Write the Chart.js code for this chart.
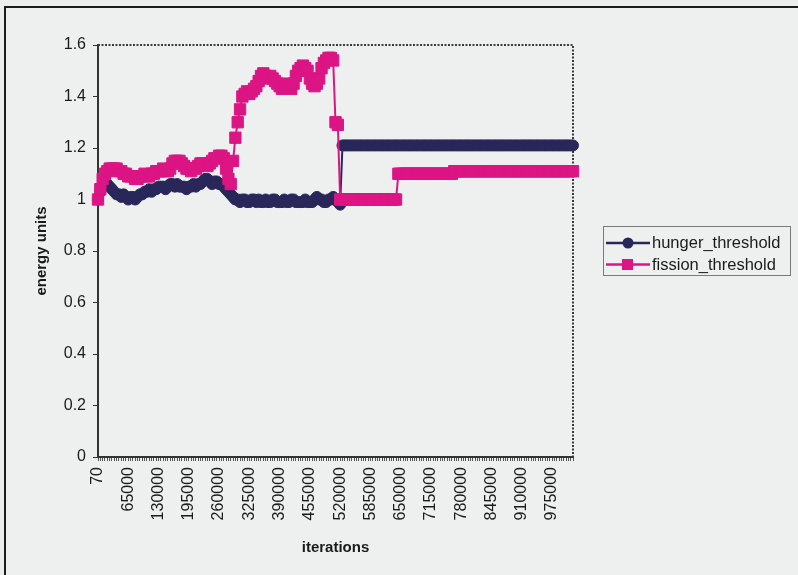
<!DOCTYPE html>
<html>
<head>
<meta charset="utf-8">
<script src="https://cdn.jsdelivr.net/npm/chart.js@4.4.1/dist/chart.umd.min.js"></script>
<style>
  html, body { margin: 0; padding: 0; background: #eceeed; overflow: hidden; }
  #frame { position: absolute; left: 4px; top: 6px; width: 830px; height: 610px;
           border-top: 2px solid #1c1c1c; border-left: 2px solid #1c1c1c; background: #eef0ef; }
  #c { position: absolute; left: 0; top: 0; }
</style>
</head>
<body>
<div id="frame"></div>
<canvas id="c" width="798" height="575"></canvas>
<script>
// iteration counts sampled every 5000 steps (first sample at iteration 70)
const iterations = [70];
for (let k = 1; k <= 204; k++) iterations.push(k * 5000);

// labels printed under the x axis
const tickLabels = ['70', '65000', '130000', '195000', '260000', '325000', '390000', '455000',
  '520000', '585000', '650000', '715000', '780000', '845000', '910000', '975000'];

const hungerThreshold = [
  1.00, 1.03, 1.05, 1.06, 1.06, 1.05, 1.04, 1.03, 1.02, 1.02,
  1.01, 1.02, 1.01, 1.00, 1.01, 1.01, 1.00, 1.01, 1.02, 1.02,
  1.03, 1.03, 1.04, 1.03, 1.04, 1.04, 1.05, 1.05, 1.05, 1.04,
  1.05, 1.06, 1.06, 1.05, 1.06, 1.05, 1.05, 1.05, 1.04, 1.05,
  1.05, 1.06, 1.05, 1.06, 1.06, 1.07, 1.08, 1.08, 1.07, 1.06,
  1.07, 1.07, 1.06, 1.06, 1.05, 1.04, 1.03, 1.02, 1.01, 1.00,
  1.00, 0.99, 1.00, 1.00, 0.99, 0.99, 1.00, 1.00, 0.99, 1.00,
  0.99, 0.99, 1.00, 0.99, 0.99, 1.00, 1.00, 0.99, 0.99, 0.99,
  1.00, 0.99, 0.99, 1.00, 1.00, 0.99, 0.99, 0.99, 0.99, 1.00,
  0.99, 0.99, 0.99, 1.00, 1.01, 1.00, 1.00, 0.99, 0.99, 1.00,
  1.00, 1.01, 1.00, 0.99, 0.98, 1.21, 1.21, 1.21, 1.21, 1.21,
  1.21, 1.21, 1.21, 1.21, 1.21, 1.21, 1.21, 1.21, 1.21, 1.21,
  1.21, 1.21, 1.21, 1.21, 1.21, 1.21, 1.21, 1.21, 1.21, 1.21,
  1.21, 1.21, 1.21, 1.21, 1.21, 1.21, 1.21, 1.21, 1.21, 1.21,
  1.21, 1.21, 1.21, 1.21, 1.21, 1.21, 1.21, 1.21, 1.21, 1.21,
  1.21, 1.21, 1.21, 1.21, 1.21, 1.21, 1.21, 1.21, 1.21, 1.21,
  1.21, 1.21, 1.21, 1.21, 1.21, 1.21, 1.21, 1.21, 1.21, 1.21,
  1.21, 1.21, 1.21, 1.21, 1.21, 1.21, 1.21, 1.21, 1.21, 1.21,
  1.21, 1.21, 1.21, 1.21, 1.21, 1.21, 1.21, 1.21, 1.21, 1.21,
  1.21, 1.21, 1.21, 1.21, 1.21, 1.21, 1.21, 1.21, 1.21, 1.21,
  1.21, 1.21, 1.21, 1.21, 1.21
];

const fissionThreshold = [
  1.00, 1.04, 1.08, 1.10, 1.11, 1.12, 1.12, 1.12, 1.12, 1.11,
  1.11, 1.10, 1.10, 1.09, 1.09, 1.09, 1.08, 1.08, 1.09, 1.09,
  1.10, 1.09, 1.09, 1.10, 1.10, 1.11, 1.11, 1.11, 1.12, 1.11,
  1.11, 1.12, 1.14, 1.15, 1.15, 1.15, 1.14, 1.13, 1.12, 1.12,
  1.11, 1.12, 1.12, 1.13, 1.14, 1.14, 1.14, 1.13, 1.14, 1.15,
  1.16, 1.16, 1.17, 1.17, 1.16, 1.12, 1.08, 1.06, 1.15, 1.24,
  1.30, 1.35, 1.40, 1.41, 1.42, 1.41, 1.42, 1.43, 1.44, 1.46,
  1.48, 1.49, 1.48, 1.47, 1.48, 1.47, 1.46, 1.45, 1.44, 1.43,
  1.44, 1.45, 1.44, 1.43, 1.45, 1.48, 1.50, 1.51, 1.52, 1.51,
  1.50, 1.47, 1.45, 1.44, 1.45, 1.47, 1.51, 1.53, 1.54, 1.55,
  1.55, 1.54, 1.30, 1.29, 1.00, 1.00, 1.00, 1.00, 1.00, 1.00,
  1.00, 1.00, 1.00, 1.00, 1.00, 1.00, 1.00, 1.00, 1.00, 1.00,
  1.00, 1.00, 1.00, 1.00, 1.00, 1.00, 1.00, 1.00, 1.00, 1.10,
  1.10, 1.10, 1.10, 1.10, 1.10, 1.10, 1.10, 1.10, 1.10, 1.10,
  1.10, 1.10, 1.10, 1.10, 1.10, 1.10, 1.10, 1.10, 1.10, 1.10,
  1.10, 1.10, 1.10, 1.11, 1.11, 1.11, 1.11, 1.11, 1.11, 1.11,
  1.11, 1.11, 1.11, 1.11, 1.11, 1.11, 1.11, 1.11, 1.11, 1.11,
  1.11, 1.11, 1.11, 1.11, 1.11, 1.11, 1.11, 1.11, 1.11, 1.11,
  1.11, 1.11, 1.11, 1.11, 1.11, 1.11, 1.11, 1.11, 1.11, 1.11,
  1.11, 1.11, 1.11, 1.11, 1.11, 1.11, 1.11, 1.11, 1.11, 1.11,
  1.11, 1.11, 1.11, 1.11, 1.11
];

const NAVY = '#29275a';
const PINK = '#dc1584';
const INK = '#1a1a1a';
const FONT = '"Liberation Sans", Arial, Helvetica, sans-serif';

Chart.defaults.font.family = FONT;
Chart.defaults.color = INK;

// dotted frame on the top and right of the plot area
const plotFrame = {
  id: 'plotFrame',
  beforeDatasetsDraw(chart) {
    const { ctx, chartArea: a } = chart;
    ctx.save();
    ctx.strokeStyle = '#3a3a3a';
    ctx.lineWidth = 2;
    ctx.setLineDash([2, 1.5]);
    ctx.beginPath();
    ctx.moveTo(a.left, a.top);
    ctx.lineTo(a.right, a.top);
    ctx.lineTo(a.right, a.bottom);
    ctx.stroke();
    ctx.restore();
  }
};

// boxed legend with line + marker samples
const sideLegend = {
  id: 'sideLegend',
  afterDraw(chart) {
    const { ctx } = chart;
    const x0 = 603, y0 = 226, w = 187, h = 49;
    ctx.save();
    ctx.strokeStyle = '#7a7a7a';
    ctx.lineWidth = 1;
    ctx.strokeRect(x0 + 0.5, y0 + 0.5, w, h);
    chart.data.datasets.forEach((ds, i) => {
      const y = y0 + 17 + i * 21.5;
      ctx.strokeStyle = ds.borderColor;
      ctx.fillStyle = ds.backgroundColor;
      ctx.lineWidth = 2.5;
      ctx.beginPath();
      ctx.moveTo(606, y);
      ctx.lineTo(650, y);
      ctx.stroke();
      if (ds.pointStyle === 'rect') {
        ctx.fillRect(622, y - 5.5, 11, 11);
      } else {
        ctx.beginPath();
        ctx.arc(628, y, 5.5, 0, Math.PI * 2);
        ctx.fill();
      }
      ctx.fillStyle = INK;
      ctx.font = '16.5px ' + FONT;
      ctx.textBaseline = 'middle';
      ctx.fillText(ds.label, 652, y + 0.5);
    });
    ctx.restore();
  }
};

new Chart(document.getElementById('c'), {
  type: 'line',
  data: {
    labels: iterations,
    datasets: [
      {
        label: 'hunger_threshold',
        data: hungerThreshold,
        borderColor: NAVY,
        backgroundColor: NAVY,
        borderWidth: 2,
        pointStyle: 'circle',
        pointRadius: 5.5,
        pointBorderWidth: 1,
        tension: 0,
        clip: false,
        order: 2
      },
      {
        label: 'fission_threshold',
        data: fissionThreshold,
        borderColor: PINK,
        backgroundColor: PINK,
        borderWidth: 2,
        pointStyle: 'rect',
        pointRadius: 8,
        pointBorderWidth: 1,
        tension: 0,
        clip: false,
        order: 1
      }
    ]
  },
  options: {
    responsive: false,
    animation: false,
    layout: { padding: { left: 29, right: 225, top: 45, bottom: 14 } },
    plugins: { legend: { display: false }, tooltip: { enabled: false } },
    scales: {
      x: {
        type: 'category',
        offset: false,
        afterFit(s) { s.height = 104; },
        border: { color: '#333', width: 2 },
        grid: { display: true, drawOnChartArea: false, tickLength: 4, color: '#555', lineWidth: 1 },
        ticks: {
          autoSkip: false,
          minRotation: 90,
          maxRotation: 90,
          padding: 6,
          font: { size: 16 },
          color: INK,
          callback(value, index) {
            const s = String(iterations[index]);
            return tickLabels.includes(s) ? s : '';
          }
        },
        title: { display: true, text: 'iterations', font: { size: 15, weight: 'bold' }, color: INK,
                 padding: { top: 4, bottom: 4 } }
      },
      y: {
        min: 0,
        max: 1.6,
        afterFit(s) { s.width = 69; },
        border: { color: '#333', width: 2, dash: [2, 1] },
        grid: { display: true, drawOnChartArea: false, tickLength: 5, color: '#333' },
        ticks: {
          stepSize: 0.2, padding: 7, font: { size: 16 }, color: INK,
          callback(v) { return String(Math.round(v * 10) / 10); }
        },
        title: { display: true, text: 'energy units', font: { size: 15, weight: 'bold' }, color: INK,
                 padding: { top: 4, bottom: 4 } }
      }
    }
  },
  plugins: [plotFrame, sideLegend]
});
</script>
</body>
</html>
